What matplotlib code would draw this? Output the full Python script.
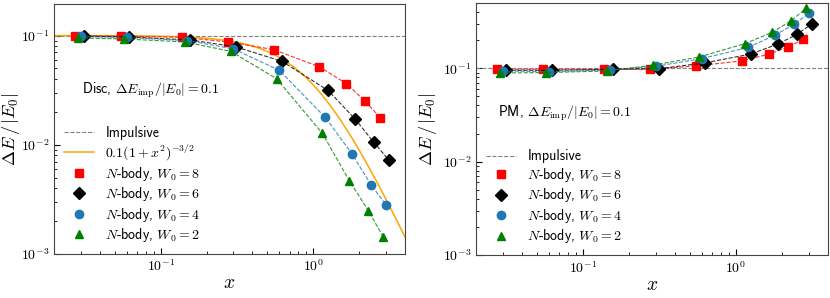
import numpy as np
import matplotlib
matplotlib.use("Agg")
import matplotlib.pyplot as plt
from matplotlib.ticker import FuncFormatter, NullFormatter

plt.rcParams['mathtext.fontset'] = 'cm'
plt.rcParams['font.family'] = ['cmss10', 'DejaVu Sans']

# x values for each run (multiples of the base impact parameter)
mult = np.array([0.1, 0.2, 0.5, 1, 2, 4, 6, 8, 10])
x_w8 = 0.275 * mult
x_w6 = 0.3125 * mult
x_w4 = 0.3 * mult
x_w2 = 0.2875 * mult

# Disc encounters
disc_w8 = [0.1, 0.0985, 0.0965, 0.0875, 0.0744, 0.0516, 0.0363, 0.0249, 0.0177]
disc_w6 = [0.0985, 0.097, 0.091, 0.0787, 0.058, 0.0315, 0.0173, 0.0105, 0.00725]
disc_w4 = [0.098, 0.096, 0.090, 0.0755, 0.048, 0.0178, 0.00822, 0.00427, 0.00283]
disc_w2 = [0.095, 0.093, 0.0875, 0.0718, 0.0403, 0.0127, 0.00468, 0.00249, 0.00143]

# Point-mass encounters
pm_w8 = [0.0975, 0.0975, 0.0975, 0.0975, 0.106, 0.120, 0.142, 0.169, 0.204]
pm_w6 = [0.095, 0.095, 0.0975, 0.099, 0.114, 0.142, 0.181, 0.230, 0.297]
pm_w4 = [0.0935, 0.092, 0.096, 0.105, 0.127, 0.167, 0.226, 0.295, 0.387]
pm_w2 = [0.089, 0.090, 0.0935, 0.108, 0.132, 0.184, 0.242, 0.323, 0.438]

runs = [
    ('8', 's', 'red'),
    ('6', 'D', 'black'),
    ('4', 'o', '#1f77b4'),
    ('2', '^', 'green'),
]
xs = [x_w8, x_w6, x_w4, x_w2]

fig = plt.figure(figsize=(8.3, 2.98), dpi=100)
ax1 = fig.add_axes([0.065, 0.148, 0.423, 0.839])
ax2 = fig.add_axes([0.5735, 0.144, 0.424, 0.846])

pow10 = FuncFormatter(lambda v, _: r'$10^{%d}$' % round(np.log10(v)))


def draw(ax, ys, show_curve, ylim, ylab_x):
    ax.axhline(0.1, color='gray', ls='--', lw=0.8, label='Impulsive')
    if show_curve:
        xx = np.logspace(np.log10(0.02), np.log10(4), 300)
        ax.plot(xx, 0.1 * (1 + xx**2) ** -1.5, color='orange', lw=1.1,
                label=r'$0.1(1+x^2)^{-3/2}$')
    for (w, m, c), x, y in zip(runs, xs, ys):
        ax.plot(x, y, ls='--', color=c, lw=0.8, alpha=0.8)
        ms = 6.5 if m == 'D' else 6
        ax.plot(x, y, ls='none', marker=m, color=c, ms=ms,
                label=r'$N$-body, $W_0 = %s$' % w)
    ax.set_xscale('log')
    ax.set_yscale('log')
    ax.set_xlim(0.02, 4)
    ax.set_ylim(*ylim)
    for a in (ax.xaxis, ax.yaxis):
        a.set_major_formatter(pow10)
        a.set_minor_formatter(NullFormatter())
    ax.set_xlabel(r'$x$', fontsize=14, labelpad=0)
    ax.set_ylabel(r'$\Delta E\,/\,|E_0|$', fontsize=13)
    ax.yaxis.set_label_coords(ylab_x, 0.5)
    ax.tick_params(which='both', direction='in', labelsize=10)
    ax.tick_params(which='major', length=4)
    ax.tick_params(which='minor', length=2.5)
    for s in ax.spines.values():
        s.set_color('#444444')
    ax.legend(loc='lower left', frameon=False, fontsize=10,
              handlelength=2.2, labelspacing=0.18, borderaxespad=0.3)


draw(ax1, [disc_w8, disc_w6, disc_w4, disc_w2], True, (1e-3, 0.195), -0.091)
draw(ax2, [pm_w8, pm_w6, pm_w4, pm_w2], False, (1e-3, 0.5), -0.106)

ax1.text(0.08, 0.656, r'Disc, $\Delta E_{\rm imp}/|E_0| = 0.1$',
         transform=ax1.transAxes, fontsize=10, va='center')
ax2.text(0.0625, 0.563, r'PM, $\Delta E_{\rm imp}/|E_0| = 0.1$',
         transform=ax2.transAxes, fontsize=10, va='center')

plt.savefig('out.png', dpi=100)
